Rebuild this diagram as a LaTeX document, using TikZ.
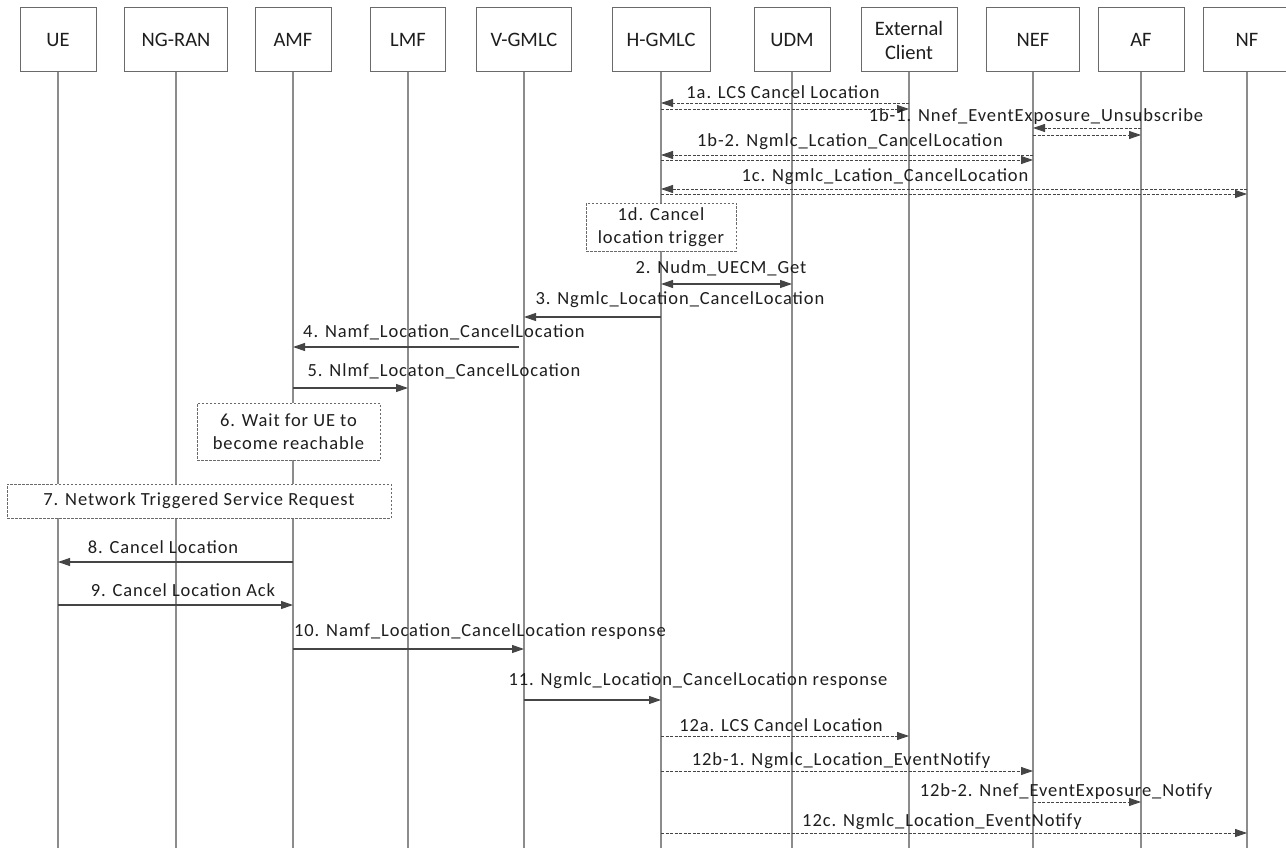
\documentclass[tikz,border=0pt]{standalone}
\usepackage{fontspec}
\setmainfont{Carlito}
\newfontfamily\msgfont[LetterSpace=5]{Carlito}
\usetikzlibrary{arrows.meta}
\definecolor{lifec}{HTML}{8C8C8C}
\definecolor{boxc}{HTML}{6A6A6A}
\definecolor{arrc}{HTML}{454545}
\definecolor{txtc}{HTML}{1E1E1E}
\begin{document}
\begin{tikzpicture}[x=1pt,y=-1pt,
  hdr/.style={draw=boxc,line width=1pt,fill=white,minimum height=64pt,inner sep=0pt,
    text=txtc,font=\fontsize{20.5}{24}\selectfont,align=center},
  life/.style={draw=lifec,line width=1.2pt},
  lbl/.style={text=txtc,font=\msgfont\fontsize{18.5}{23}\selectfont,inner sep=0pt},
  msg/.style={draw=arrc,line width=1.1pt,-{Triangle[length=12pt,width=8pt]}},
  dmsg/.style={draw=arrc,line width=0.85pt,dash pattern=on 3pt off 1.5pt,-{Triangle[length=12pt,width=8pt]}},
  bmsg/.style={draw=arrc,line width=1.1pt,{Triangle[length=12pt,width=8pt]}-{Triangle[length=12pt,width=8pt]}},
  note/.style={draw=boxc,line width=0.9pt,dash pattern=on 2.5pt off 1.5pt,fill=white,
    inner sep=0pt,text=txtc,font=\msgfont\fontsize{18.5}{23.5}\selectfont,align=center}
]
\useasboundingbox[fill=white] (0,0) rectangle (1286,848);
% headers
\node[hdr,minimum width=76pt] (ue) at (58,40) {UE};
\node[hdr,minimum width=103pt] (ran) at (176,40) {NG-RAN};
\node[hdr,minimum width=76pt] (amf) at (293,40) {AMF};
\node[hdr,minimum width=75pt] (lmf) at (408,40) {LMF};
\node[hdr,minimum width=95pt] (vg) at (524,40) {V-GMLC};
\node[hdr,minimum width=98pt] (hg) at (661,40) {H-GMLC};
\node[hdr,minimum width=76pt] (udm) at (792,40) {UDM};
\node[hdr,minimum width=96pt] (ext) at (909,40) {External\\Client};
\node[hdr,minimum width=93pt] (nef) at (1033,40) {NEF};
\node[hdr,minimum width=86pt] (af) at (1141,40) {AF};
\node[hdr,minimum width=88pt] (nf) at (1247,40) {NF};
% lifelines
\foreach \n in {ue,ran,amf,lmf,vg,hg,udm,ext,nef,af,nf}
  \draw[life] (\n.south) -- (\n.south |- 0,848);
% 1a
\node[lbl] (l1a) at (783,92) {1a. LCS Cancel Location};
\draw[dmsg] (ext |- 0,103) -- (hg |- 0,103);
\draw[dmsg] (hg |- 0,109) -- (ext |- 0,109);
% 1b-1
\node[lbl] (l1b1) at (1036,117) {1b-1. Nnef\_EventExposure\_Unsubscribe};
\draw[dmsg] (af |- 0,128) -- (nef |- 0,128);
\draw[dmsg] (nef |- 0,135) -- (af |- 0,135);
% 1b-2
\node[lbl] (l1b2) at (850,142) {1b-2. Ngmlc\_Lcation\_CancelLocation};
\draw[dmsg] (nef |- 0,155) -- (hg |- 0,155);
\draw[dmsg] (hg |- 0,160) -- (nef |- 0,160);
% 1c
\node[lbl] (l1c) at (885,177) {1c. Ngmlc\_Lcation\_CancelLocation};
\draw[dmsg] (nf |- 0,189) -- (hg |- 0,189);
\draw[dmsg] (hg |- 0,194) -- (nf |- 0,194);
% 1d
\node[note,minimum width=150pt,minimum height=48pt] (n1d) at (661,227) {1d. Cancel\\location trigger};
% 2
\node[lbl] (l2) at (721,268) {2. Nudm\_UECM\_Get};
\draw[bmsg] (hg |- 0,284) -- (udm |- 0,284);
% 3
\node[lbl] (l3) at (680,300) {3. Ngmlc\_Location\_CancelLocation};
\draw[msg] (hg |- 0,317) -- (vg |- 0,317);
% 4
\node[lbl] (l4) at (444,332) {4. Namf\_Location\_CancelLocation};
\draw[msg] ([xshift=-5pt]vg |- 0,347) -- (amf |- 0,347);
% 5
\node[lbl] (l5) at (444,371) {5. Nlmf\_Locaton\_CancelLocation};
\draw[msg] (amf |- 0,388) -- (lmf |- 0,388);
% 6
\node[note,minimum width=183pt,minimum height=57pt] (n6) at (288.5,431.5) {6. Wait for UE to\\become reachable};
% 7
\node[note,minimum width=384pt,minimum height=34pt] (n7) at (199,501) {7. Network Triggered Service Request};
% 8
\node[lbl] (l8) at (163,547) {8. Cancel Location};
\draw[msg] (amf |- 0,562) -- (ue |- 0,562);
% 9
\node[lbl] (l9) at (183,590) {9. Cancel Location Ack};
\draw[msg] (ue |- 0,605) -- (amf |- 0,605);
% 10
\node[lbl] (l10) at (480,632) {10. Namf\_Location\_CancelLocation response};
\draw[msg] (amf |- 0,649) -- (vg |- 0,649);
% 11
\node[lbl] (l11) at (698,681) {11. Ngmlc\_Location\_CancelLocation response};
\draw[msg] (vg |- 0,700) -- (hg |- 0,700);
% 12a
\node[lbl] (l12a) at (781,725) {12a. LCS Cancel Location};
\draw[dmsg] (hg |- 0,736) -- (ext |- 0,736);
% 12b-1
\node[lbl] (l12b1) at (841,761) {12b-1. Ngmlc\_Location\_EventNotify};
\draw[dmsg] (hg |- 0,771) -- (nef |- 0,771);
% 12b-2
\node[lbl] (l12b2) at (1066,792) {12b-2. Nnef\_EventExposure\_Notify};
\draw[dmsg] (nef |- 0,802) -- (af |- 0,802);
% 12c
\node[lbl] (l12c) at (942,822) {12c. Ngmlc\_Location\_EventNotify};
\draw[dmsg] (hg |- 0,833) -- (nf |- 0,833);
\end{tikzpicture}
\end{document}
